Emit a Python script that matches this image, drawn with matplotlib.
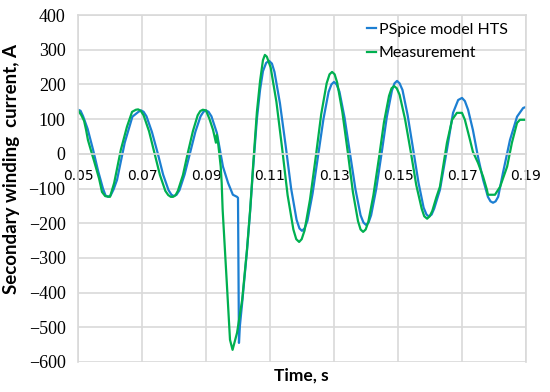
import numpy as np
import matplotlib
matplotlib.use("Agg")
import matplotlib.pyplot as plt

# PSpice model HTS (blue)
t_pspice = [0.0500, 0.0508, 0.0516, 0.0530, 0.0547, 0.0563, 0.0578, 0.0586, 0.0594, 0.0602, 0.0611, 0.0622,
            0.0646, 0.0670, 0.0689, 0.0697, 0.0705,
            0.0714, 0.0731, 0.0749, 0.0766, 0.0783, 0.0792, 0.0800, 0.0808,
            0.0817, 0.0833, 0.0850, 0.0867, 0.0883, 0.0892, 0.0900, 0.0908,
            0.0917, 0.0934, 0.0953, 0.0969, 0.0984, 0.0997, 0.1000, 0.1003, 0.1006,
            0.1013, 0.1028, 0.1038, 0.1047, 0.1059, 0.1069, 0.1078, 0.1088, 0.1097, 0.1106,
            0.1114, 0.1131, 0.1149, 0.1166, 0.1183, 0.1192, 0.1200, 0.1208,
            0.1217, 0.1233, 0.1250, 0.1267, 0.1283, 0.1292, 0.1300, 0.1308,
            0.1317, 0.1333, 0.1350, 0.1367, 0.1383, 0.1392, 0.1400, 0.1408,
            0.1416, 0.1432, 0.1449, 0.1465, 0.1481, 0.1489, 0.1497, 0.1505,
            0.1514, 0.1530, 0.1547, 0.1564, 0.1580, 0.1589, 0.1597, 0.1605,
            0.1613, 0.1631, 0.1653, 0.1672, 0.1688, 0.1700, 0.1709,
            0.1719, 0.1734, 0.1750, 0.1766, 0.1781, 0.1789, 0.1797, 0.1805,
            0.1813, 0.1828, 0.1850, 0.1872, 0.1891, 0.1900]
i_pspice = [127, 124, 108, 72, 12, -50, -100, -120, -124, -120, -103, -75,
            32, 107, 121, 125, 121,
            108, 63, 2, -60, -105, -118, -122, -118,
            -105, -60, 2, 64, 108, 121, 125, 121,
            108, 60, -37, -84, -118, -124, -127, -545, -495,
            -430, -280, -165, -45, 100, 185, 238, 262, 268, 260,
            236, 146, 23, -100, -190, -215, -222, -215,
            -193, -115, -7, 100, 178, 200, 207, 200,
            179, 104, 1, -102, -177, -198, -205, -198,
            -177, -101, 3, 106, 182, 203, 210, 203,
            184, 112, 15, -83, -155, -175, -181, -175,
            -158, -104, 12, 118, 155, 161, 152,
            127, 69, -9, -75, -124, -137, -141, -137,
            -124, -55, 40, 107, 132, 135]

# Measurement (green)
t_meas = [0.0500, 0.0510, 0.0519, 0.0525, 0.0531, 0.0541, 0.0550, 0.0566, 0.0575, 0.0585, 0.0600,
          0.0613, 0.0634, 0.0653, 0.0669, 0.0681, 0.0688, 0.0696,
          0.0705, 0.0722, 0.0739, 0.0756, 0.0773, 0.0782, 0.0790, 0.0797, 0.0805,
          0.0812, 0.0828, 0.0843, 0.0859, 0.0874, 0.0882, 0.0890,
          0.0900, 0.0911, 0.0922, 0.0931, 0.0934, 0.0938, 0.0946, 0.0949, 0.0952, 0.0965, 0.0975, 0.0983,
          0.0997, 0.1013, 0.1028, 0.1038, 0.1047, 0.1059, 0.1069, 0.1078, 0.1084, 0.1090,
          0.1102, 0.1120, 0.1138, 0.1155, 0.1173, 0.1182, 0.1191, 0.1199,
          0.1208, 0.1225, 0.1243, 0.1260, 0.1277, 0.1286, 0.1294, 0.1302,
          0.1310, 0.1326, 0.1343, 0.1359, 0.1375, 0.1383, 0.1391, 0.1399,
          0.1407, 0.1423, 0.1440, 0.1456, 0.1472, 0.1480, 0.1488, 0.1496,
          0.1505, 0.1522, 0.1540, 0.1557, 0.1574, 0.1582, 0.1591, 0.1599,
          0.1607, 0.1620, 0.1631, 0.1653, 0.1669, 0.1684, 0.1700, 0.1709,
          0.1725, 0.1734, 0.1750, 0.1766, 0.1778, 0.1781, 0.1803,
          0.1819, 0.1841, 0.1856, 0.1872, 0.1881, 0.1900]
i_meas = [125, 112, 95, 70, 40, 8, -20, -72, -110, -122, -124,
          -84, 12, 78, 121, 127, 128, 124,
          111, 65, 2, -61, -107, -119, -124, -124, -119,
          -107, -61, 2, 65, 111, 123, 127,
          125, 100, 69, 32, 55, 30, -37, -84, -161, -372, -536, -565,
          -516, -421, -277, -161, -37, 120, 210, 270, 285, 280,
          249, 150, 15, -119, -218, -246, -254, -246,
          -221, -132, -9, 114, 203, 229, 236, 229,
          205, 121, 5, -110, -194, -218, -225, -218,
          -197, -120, -15, 90, 167, 189, 195, 189,
          170, 100, 5, -90, -158, -180, -187, -180,
          -165, -125, -95, 32, 98, 118, 118, 98,
          40, 6, -26, -66, -104, -118, -118,
          -95, -37, 32, 89, 98, 98]

x_ticks = [0.05, 0.07, 0.09, 0.11, 0.13, 0.15, 0.17, 0.19]
y_ticks = list(range(-600, 401, 100))

grid_col = "#d9d9d9"

fig = plt.figure(figsize=(5.5, 3.92), dpi=100)
ax = fig.add_axes([78 / 550, 1 - 362 / 392, 448 / 550, 347 / 392])

ax.plot(t_pspice, i_pspice, color="#1c7fd2", lw=1.6, label="PSpice model HTS")
ax.plot(t_meas, i_meas, color="#00b050", lw=1.6, label="Measurement")

ax.set_xlim(0.05, 0.19)
ax.set_ylim(-600, 400)
ax.set_xticks(x_ticks)
ax.set_xticklabels(["%.2f" % v for v in x_ticks], family="Lato", fontsize=12.5)
ax.set_yticks(y_ticks)
ax.set_yticklabels([str(v).replace("-", "\u2212") for v in y_ticks],
                   family="Liberation Serif", fontsize=13)
ax.grid(True, color=grid_col, lw=1.2)
ax.set_axisbelow(True)

for s in ax.spines.values():
    s.set_color(grid_col)
    s.set_linewidth(1.2)
ax.spines["bottom"].set_position(("data", 0))
ax.tick_params(axis="both", length=0)
ax.tick_params(axis="x", pad=11)
ax.tick_params(axis="y", pad=9)

ax.set_ylabel("Secondary winding  current, A", family="Lato", fontweight="bold",
              fontsize=13.5)
ax.yaxis.set_label_coords(-0.13, 0.556)
fig.text(0.548, 0.03, "Time, s", family="Lato", fontweight="bold", fontsize=12.5,
         ha="center", va="baseline")

ax.legend(loc="upper right", bbox_to_anchor=(514 / 550, 1 - 16 / 392),
          bbox_transform=fig.transFigure, frameon=False,
          prop={"family": "Lato", "size": 11.5}, handlelength=0.6,
          handletextpad=0.15, labelspacing=0.6, borderaxespad=0)

fig.savefig("out.png", dpi=100)
